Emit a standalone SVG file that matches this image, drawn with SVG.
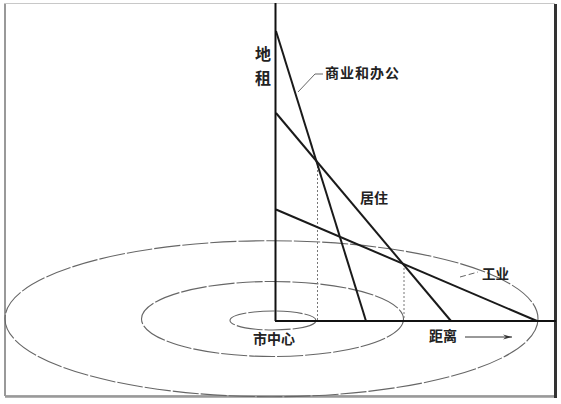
<svg xmlns="http://www.w3.org/2000/svg" width="561" height="404" viewBox="0 0 561 404">
<style>
.ax{stroke:#111;stroke-width:2;fill:none}
.ln{stroke:#1a1a1a;stroke-width:2;fill:none}
.ring{stroke:#666;stroke-width:1.1;fill:none;stroke-dasharray:26 2}
.dot{stroke:#777;stroke-width:1;fill:none;stroke-dasharray:2 2}
.lead{stroke:#666;stroke-width:1;fill:none}
.t{font-family:"Noto Sans CJK SC","Noto Sans",sans-serif;font-weight:bold;fill:#222}
</style>
<defs>
<marker id="ah" markerWidth="10" markerHeight="6" refX="9" refY="3" orient="auto" markerUnits="userSpaceOnUse">
<path d="M0,0.5 L9,3 L0,5.5 L3,3 Z" fill="#333"/>
</marker>
</defs>
<rect x="0" y="0" width="561" height="404" fill="#fff"/>
<g id="frame">
<rect x="4.5" y="3.5" width="550" height="392" fill="none" stroke="#c8c8c8" stroke-width="1"/>
<line x1="5" y1="4" x2="5" y2="396" stroke="#999" stroke-width="2"/>
<line x1="5" y1="396.5" x2="556" y2="396.5" stroke="#999" stroke-width="2.5"/>
<line x1="555.5" y1="4" x2="555.5" y2="398" stroke="#333" stroke-width="3"/>
</g>
<g id="rings">
<ellipse class="ring" cx="273" cy="320.5" rx="43" ry="9.5"/>
<ellipse class="ring" cx="272.5" cy="319" rx="131" ry="37.5"/>
<ellipse class="ring" cx="271.5" cy="318.7" rx="266.5" ry="78"/>
</g>
<g id="connectors">
<line class="dot" x1="317.5" y1="162" x2="317.5" y2="321"/>
<line class="dot" x1="404" y1="264" x2="404" y2="321"/>
<line class="ln" x1="276" y1="31" x2="366" y2="321"/>
<line class="ln" x1="276" y1="113" x2="451" y2="321"/>
<line class="ln" x1="276" y1="209.5" x2="537" y2="321"/>
<polyline class="lead" points="298,92 315,74 323,74"/>
<line class="lead" x1="460" y1="277" x2="478" y2="272" stroke-dasharray="6 3"/>
<line x1="465" y1="337" x2="512" y2="337" stroke="#333" stroke-width="1" marker-end="url(#ah)"/>
</g>
<g id="axes">
<line class="ax" x1="275.5" y1="3" x2="275.5" y2="321"/>
<line class="ax" x1="275" y1="321" x2="556" y2="321"/>
</g>
<g id="labels">
<text class="t" x="263" y="60" font-size="16" text-anchor="middle">地</text>
<text class="t" x="263" y="84" font-size="16" text-anchor="middle">租</text>
<text class="t" x="325" y="77.5" font-size="14" letter-spacing="1">商业和办公</text>
<text class="t" x="360" y="203" font-size="14">居住</text>
<text class="t" x="482" y="279" font-size="13.5">工业</text>
<text class="t" x="253" y="344" font-size="14">市中心</text>
<text class="t" x="429" y="341" font-size="14">距离</text>
</g>
</svg>
